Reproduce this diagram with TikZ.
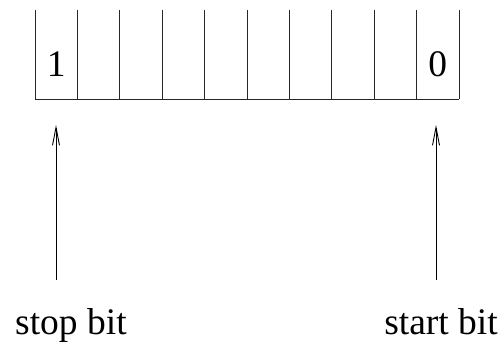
\documentclass[tikz,border=0pt]{standalone}
\usepackage{fontspec}
\setmainfont{Liberation Serif}
\usetikzlibrary{arrows.meta}
\begin{document}
\begin{tikzpicture}[x=1pt,y=1pt,
  cellline/.style={line width=0.9pt, black!85},
  bitlabel/.style={inner sep=0pt, anchor=base, font=\fontsize{37.5}{40}\selectfont},
  caption/.style={inner sep=0pt, font=\fontsize{37.5}{40}\selectfont},
  pointer/.style={line width=0.9pt, -{Straight Barb[length=18pt,width=7pt]}}]
\useasboundingbox (0,0) rectangle (503,347);
% register cells (no top edge)
\foreach \i in {0,...,10} {
  \coordinate (t\i) at ({35+42.4*\i},337);
  \coordinate (b\i) at ({35+42.4*\i},247.7);
  \draw[cellline] (t\i) -- (b\i);
}
\draw[cellline] (b0) -- (b10);
% bit values
\node[bitlabel] (one) at (56.2,270) {1};
\node[bitlabel] (zero) at (437.8,270) {0};
% labels
\node[caption, anchor=base west] (stop) at (15,12) {stop bit};
\node[caption, anchor=base east] (start) at (498,12) {start bit};
% arrows
\coordinate (sa) at (56,67);
\coordinate (sb) at (56,222);
\coordinate (ea) at (436,67);
\coordinate (eb) at (436,222);
\draw[pointer] (sa) -- (sb);
\draw[pointer] (ea) -- (eb);
\end{tikzpicture}
\end{document}
